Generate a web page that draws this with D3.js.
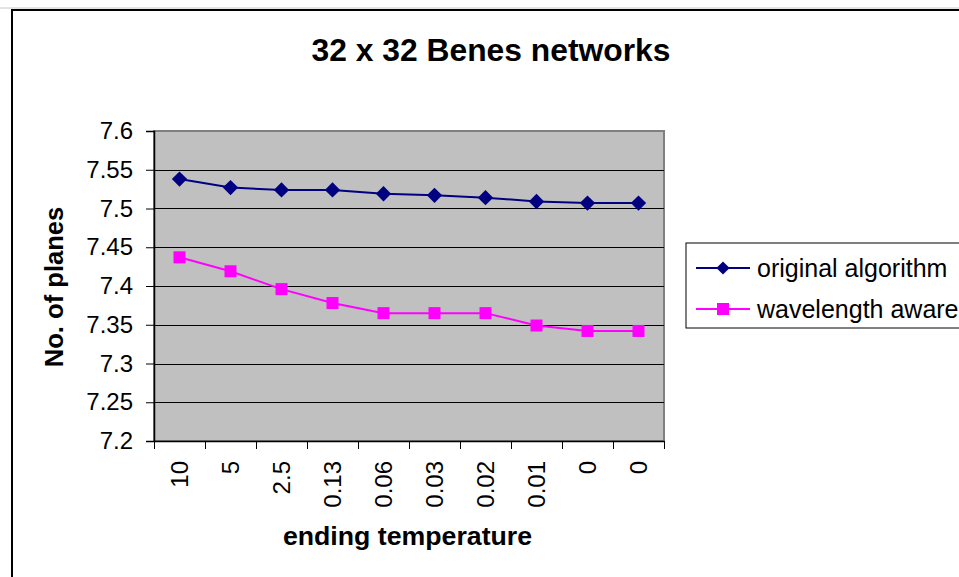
<!DOCTYPE html>
<html>
<head>
<meta charset="utf-8">
<script src="https://cdn.jsdelivr.net/npm/d3@7"></script>
<style>
  html, body { margin: 0; padding: 0; background: #fff; }
  svg { display: block; font-family: "Liberation Sans", Arial, sans-serif; }
</style>
</head>
<body>
<svg id="chart" width="959" height="577"></svg>
<script>
// Ending temperatures of the annealing schedule (x categories)
const categories = ["10", "5", "2.5", "0.13", "0.06", "0.03", "0.02", "0.01", "0", "0"];
// Average number of planes per algorithm
const originalAlgorithm = [7.538, 7.527, 7.524, 7.524, 7.519, 7.517, 7.514, 7.509, 7.507, 7.507];
const wavelengthAware   = [7.437, 7.419, 7.396, 7.378, 7.365, 7.365, 7.365, 7.349, 7.342, 7.342];
const yTicks = [7.2, 7.25, 7.3, 7.35, 7.4, 7.45, 7.5, 7.55, 7.6];
const seriesNames = ["original algorithm", "wavelength aware"];

const svg = d3.select("#chart");
const plot = { left: 154, right: 664, top: 131, bottom: 441 };

// Outer chart frame
svg.append("line").attr("x1", 0).attr("x2", 959).attr("y1", 8).attr("y2", 8)
  .attr("stroke", "#c8c8c8").attr("stroke-width", 1);
svg.append("rect").attr("x", 12).attr("y", 10).attr("width", 1000).attr("height", 700)
  .attr("fill", "none").attr("stroke", "#000").attr("stroke-width", 2);

const x = d3.scaleBand().domain(d3.range(categories.length)).range([plot.left, plot.right]).padding(0);
const xEdge = d3.scaleLinear().domain([0, categories.length]).range([plot.left, plot.right]);
const y = d3.scaleLinear().domain([7.2, 7.6]).range([plot.bottom, plot.top]);

// Plot background
svg.append("rect")
  .attr("x", plot.left).attr("y", plot.top)
  .attr("width", plot.right - plot.left).attr("height", plot.bottom - plot.top)
  .attr("fill", "#c0c0c0").attr("stroke", "#808080").attr("stroke-width", 2);

// Horizontal gridlines
svg.append("g").selectAll("line")
  .data(yTicks.filter(v => v > 7.2 && v < 7.6))
  .join("line")
  .attr("x1", plot.left).attr("x2", plot.right)
  .attr("y1", d => Math.round(y(d)) + 0.5).attr("y2", d => Math.round(y(d)) + 0.5)
  .attr("stroke", "#000").attr("stroke-width", 1);

// Y axis
const yAxis = svg.append("g").attr("transform", `translate(${plot.left},0)`)
  .call(d3.axisLeft(y).tickValues(yTicks).tickSize(8).tickPadding(13)
    .tickFormat(d => String(+d.toFixed(2))));
yAxis.select(".domain").attr("stroke", "#000").attr("stroke-width", 1.5);
yAxis.selectAll(".tick line").attr("stroke", "#000");
yAxis.selectAll("text").attr("font-size", 24).attr("fill", "#000")
  .attr("font-family", "Liberation Sans, Arial, sans-serif");

// X axis: tick marks at category boundaries
const xAxis = svg.append("g").attr("transform", `translate(0,${plot.bottom})`)
  .call(d3.axisBottom(xEdge).tickValues(d3.range(categories.length + 1)).tickSize(8)
    .tickSizeOuter(0).tickFormat(""));
xAxis.select(".domain").attr("stroke", "#000").attr("stroke-width", 1.5);
xAxis.selectAll(".tick line").attr("stroke", "#000");

// X tick labels, rotated and centered in each band
svg.append("g").selectAll("text")
  .data(categories)
  .join("text")
  .attr("transform", (d, i) => `translate(${x(i) + x.bandwidth() / 2},${plot.bottom + 20}) rotate(-90)`)
  .attr("text-anchor", "end")
  .attr("dy", "0.35em")
  .attr("font-size", 24)
  .attr("fill", "#000")
  .text(d => d);

// Series lines and markers
const cx = i => x(i) + x.bandwidth() / 2;
const line = d3.line().x((d, i) => cx(i)).y(d => y(d));

svg.append("path").datum(originalAlgorithm)
  .attr("d", line).attr("fill", "none").attr("stroke", "#000080").attr("stroke-width", 2);
svg.append("path").datum(wavelengthAware)
  .attr("d", line).attr("fill", "none").attr("stroke", "#ff00ff").attr("stroke-width", 2);

const diamond = d3.symbol().type(d3.symbolDiamond2).size(150);
svg.append("g").selectAll("path")
  .data(originalAlgorithm)
  .join("path")
  .attr("transform", (d, i) => `translate(${cx(i)},${y(d)})`)
  .attr("d", diamond)
  .attr("fill", "#000080");

const sq = 12;
svg.append("g").selectAll("rect")
  .data(wavelengthAware)
  .join("rect")
  .attr("x", (d, i) => cx(i) - sq / 2).attr("y", d => y(d) - sq / 2)
  .attr("width", sq).attr("height", sq)
  .attr("fill", "#ff00ff");

// Titles
svg.append("text")
  .attr("x", 491).attr("y", 61)
  .attr("text-anchor", "middle").attr("font-size", 31.8).attr("font-weight", "bold")
  .text("32 x 32 Benes networks");

svg.append("text")
  .attr("x", (plot.left + plot.right) / 2 - 1.5).attr("y", 545)
  .attr("text-anchor", "middle").attr("font-size", 26.7).attr("font-weight", "bold")
  .text("ending temperature");

svg.append("text")
  .attr("transform", `translate(63,${(plot.top + plot.bottom) / 2 + 1}) rotate(-90)`)
  .attr("text-anchor", "middle").attr("font-size", 25.6).attr("font-weight", "bold")
  .text("No. of planes");

// Legend
const legend = svg.append("g");
legend.append("rect")
  .attr("x", 686).attr("y", 243).attr("width", 300).attr("height", 85)
  .attr("fill", "#fff").attr("stroke", "#000").attr("stroke-width", 1);
const legendY = [268, 309];
const colors = ["#000080", "#ff00ff"];
seriesNames.forEach((name, i) => {
  const g = legend.append("g").attr("transform", `translate(0,${legendY[i]})`);
  g.append("line").attr("x1", 696).attr("x2", 750).attr("y1", 0).attr("y2", 0)
    .attr("stroke", colors[i]).attr("stroke-width", 2);
  if (i === 0) {
    g.append("path").attr("transform", "translate(723,0)")
      .attr("d", d3.symbol().type(d3.symbolDiamond2).size(110)).attr("fill", colors[i]);
  } else {
    g.append("rect").attr("x", 723 - sq / 2).attr("y", -sq / 2).attr("width", sq).attr("height", sq)
      .attr("fill", colors[i]);
  }
  g.append("text").attr("x", 757).attr("y", 0).attr("dy", "0.35em")
    .attr("font-size", 25).attr("fill", "#000").text(name);
});
</script>
</body>
</html>
